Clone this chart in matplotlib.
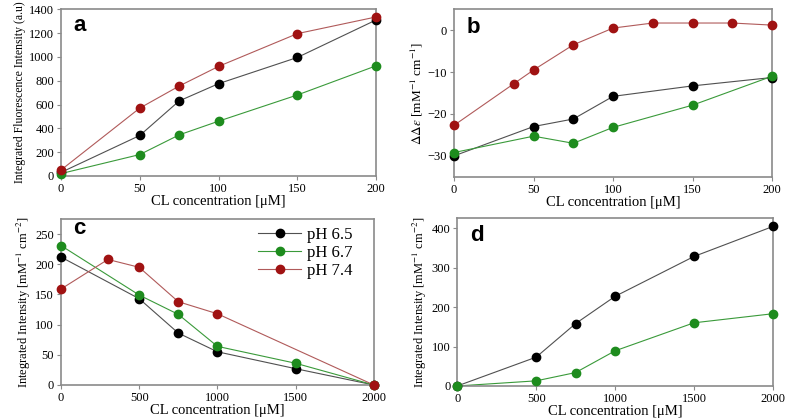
import numpy as np
import matplotlib
matplotlib.use('Agg')
import matplotlib.pyplot as plt
from matplotlib.lines import Line2D

plt.rcParams['font.family'] = ['Liberation Serif', 'DejaVu Serif']
plt.rcParams['mathtext.fontset'] = 'stix'

# panel a
a_x = [0, 50, 75, 100, 150, 200]
a_65 = [30, 340, 630, 775, 995, 1310]
a_67 = [20, 180, 345, 460, 680, 925]
a_74 = [50, 570, 755, 920, 1195, 1335]

# panel b
b_x = [0, 50, 75, 100, 150, 200]
b_65 = [-30, -23, -21.2, -15.8, -13.3, -11.3]
b_67 = [-29.2, -25.3, -27, -23.2, -17.9, -11]
b_x74 = [0, 37.5, 50, 75, 100, 125, 150, 175, 200]
b_74 = [-22.7, -12.8, -9.5, -3.5, 0.5, 1.7, 1.7, 1.7, 1.2]

# panel c
c_x = [0, 500, 750, 1000, 1500, 2000]
c_65 = [212, 143, 86, 55, 27, 0]
c_67 = [231, 149, 117, 64, 36, 0]
c_x74 = [0, 300, 500, 750, 1000, 2000]
c_74 = [159, 208, 195, 138, 118, 0]

# panel d
d_x = [0, 500, 750, 1000, 1500, 2000]
d_65 = [0, 73, 158, 227, 328, 404]
d_67 = [0, 13, 34, 89, 160, 183]

labels = ['pH 6.5', 'pH 6.7', 'pH 7.4']
mk_col = ['#000000', '#1e8c1e', '#a01212']
ln_col = ['#505050', '#3a9a3a', '#b05a5a']

fig = plt.figure(figsize=(7.87, 4.18), dpi=100)
ax_a = fig.add_axes([0.0775, 0.579, 0.4005, 0.399])
ax_b = fig.add_axes([0.577, 0.577, 0.404, 0.401])
ax_c = fig.add_axes([0.0775, 0.079, 0.3975, 0.397])
ax_d = fig.add_axes([0.581, 0.0766, 0.401, 0.4014])


def series(ax, x, y, i):
    ax.plot(x, y, '-', color=ln_col[i], lw=0.8, zorder=2, clip_on=False)
    ax.plot(x, y, 'o', color=mk_col[i], ms=6, mec=mk_col[i], zorder=3, clip_on=False)


def style(ax, letter, ly):
    for s in ax.spines.values():
        s.set_color('#8a8a8a')
        s.set_linewidth(1.2)
    ax.tick_params(direction='out', length=3, width=0.8, color='#8a8a8a',
                   labelsize=9, pad=2)
    ax.set_xlabel('CL concentration [\u03bcM]', fontsize=10.5, labelpad=0)
    ax.text(0.04, ly, letter, transform=ax.transAxes, fontsize=16,
            fontweight='bold', family='Liberation Sans', va='baseline')


series(ax_a, a_x, a_65, 0)
series(ax_a, a_x, a_67, 1)
series(ax_a, a_x, a_74, 2)
ax_a.set_xlim(0, 200)
ax_a.set_ylim(0, 1400)
ax_a.set_xticks([0, 50, 100, 150, 200])
ax_a.set_yticks(np.arange(0, 1401, 200))
ax_a.set_ylabel('Integrated Fluorescence Intensity (a.u)', fontsize=8.5, labelpad=2)
style(ax_a, 'a', 0.87)

series(ax_b, b_x, b_65, 0)
series(ax_b, b_x, b_67, 1)
series(ax_b, b_x74, b_74, 2)
ax_b.set_xlim(0, 200)
ax_b.set_ylim(-35, 5)
ax_b.set_xticks([0, 50, 100, 150, 200])
ax_b.set_yticks([-30, -20, -10, 0])
ax_b.set_ylabel(r'$\Delta\Delta\varepsilon$ [mM$^{-1}$ cm$^{-1}$]', fontsize=9.5, labelpad=2)
style(ax_b, 'b', 0.86)

series(ax_c, c_x, c_65, 0)
series(ax_c, c_x, c_67, 1)
series(ax_c, c_x74, c_74, 2)
ax_c.set_xlim(0, 2000)
ax_c.set_ylim(0, 275)
ax_c.set_xticks([0, 500, 1000, 1500, 2000])
ax_c.set_yticks(np.arange(0, 251, 50))
ax_c.set_ylabel('Integrated Intensity [mM$^{-1}$ cm$^{-2}$]', fontsize=9, labelpad=2)
style(ax_c, 'c', 0.91)

# legend handles: line + marker
handles = [Line2D([], [], color=ln_col[i], lw=0.8, marker='o', ms=6,
                  mfc=mk_col[i], mec=mk_col[i]) for i in range(3)]
ax_c.legend(handles, labels, loc='upper left', bbox_to_anchor=(0.63, 0.95),
            frameon=False, fontsize=12, handlelength=2.6, handletextpad=0.35,
            labelspacing=0.1, borderpad=0, borderaxespad=0)

series(ax_d, d_x, d_65, 0)
series(ax_d, d_x, d_67, 1)
ax_d.set_xlim(0, 2000)
ax_d.set_ylim(0, 425)
ax_d.set_xticks([0, 500, 1000, 1500, 2000])
ax_d.set_yticks(np.arange(0, 401, 100))
ax_d.set_ylabel('Integrated Intensity [mM$^{-1}$ cm$^{-2}$]', fontsize=9, labelpad=2)
style(ax_d, 'd', 0.863)

fig.savefig('out.png', dpi=100)
